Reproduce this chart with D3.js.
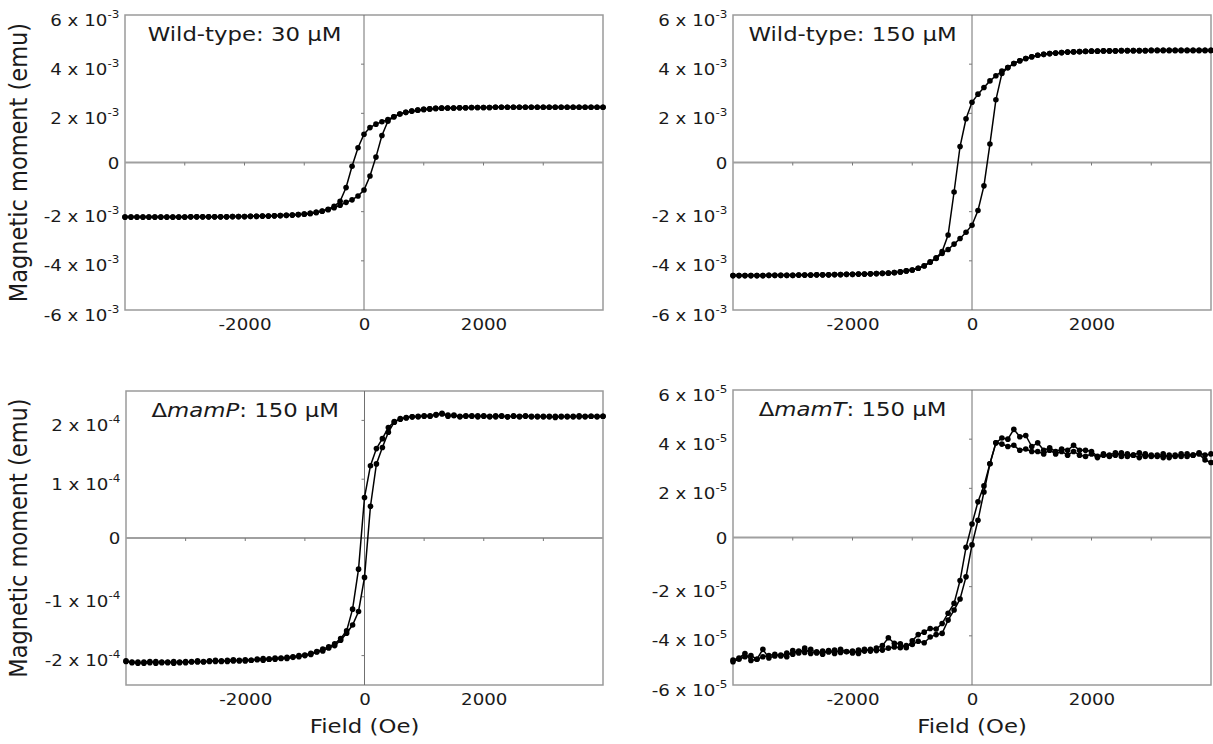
<!DOCTYPE html>
<html><head><meta charset="utf-8">
<script src="https://cdn.jsdelivr.net/npm/d3@7"></script>
<style>
body{margin:0;background:#fff}
svg{display:block}
text{font-family:"DejaVu Sans",sans-serif;fill:#1a1a1a}
</style>
</head><body>
<svg id="chart" width="1213" height="744"></svg>
<script>
// ---------- DATA ----------
const fieldOe = [
 -4000,-3900,-3800,-3700,-3600,-3500,-3400,-3300,-3200,-3100,
 -3000,-2900,-2800,-2700,-2600,-2500,-2400,-2300,-2200,-2100,
 -2000,-1900,-1800,-1700,-1600,-1500,-1400,-1300,-1200,-1100,
 -1000,-900,-800,-700,-600,-500,-400,-300,-200,-100,
 0,100,200,300,400,500,600,700,800,900,
 1000,1100,1200,1300,1400,1500,1600,1700,1800,1900,
 2000,2100,2200,2300,2400,2500,2600,2700,2800,2900,
 3000,3100,3200,3300,3400,3500,3600,3700,3800,3900,
 4000];

// Wild-type 30 µM (x 10^-3 emu)
const wt30Asc = [
 -2.22,-2.22,-2.22,-2.22,-2.22,-2.22,-2.22,-2.22,-2.22,-2.22,
 -2.22,-2.21,-2.21,-2.21,-2.21,-2.21,-2.21,-2.21,-2.20,-2.20,
 -2.20,-2.19,-2.19,-2.18,-2.18,-2.17,-2.16,-2.15,-2.14,-2.12,
 -2.10,-2.07,-2.03,-1.98,-1.92,-1.84,-1.74,-1.62,-1.52,-1.36,
 -1.12,-0.55,0.22,1.10,1.68,1.86,1.97,2.04,2.09,2.13,
 2.16,2.18,2.20,2.21,2.22,2.22,2.23,2.23,2.24,2.24,
 2.24,2.24,2.25,2.25,2.25,2.25,2.25,2.25,2.25,2.25,
 2.25,2.25,2.25,2.25,2.25,2.25,2.25,2.25,2.25,2.25,
 2.25];
const wt30Desc = [
 -2.22,-2.22,-2.22,-2.22,-2.22,-2.22,-2.22,-2.22,-2.22,-2.22,
 -2.22,-2.21,-2.21,-2.21,-2.21,-2.21,-2.21,-2.21,-2.20,-2.20,
 -2.20,-2.19,-2.19,-2.18,-2.18,-2.17,-2.16,-2.15,-2.14,-2.12,
 -2.10,-2.07,-2.03,-1.97,-1.90,-1.78,-1.58,-1.02,-0.15,0.60,
 1.15,1.42,1.56,1.66,1.75,1.86,1.97,2.04,2.09,2.13,
 2.16,2.18,2.20,2.21,2.22,2.22,2.23,2.23,2.24,2.24,
 2.24,2.24,2.25,2.25,2.25,2.25,2.25,2.25,2.25,2.25,
 2.25,2.25,2.25,2.25,2.25,2.25,2.25,2.25,2.25,2.25,
 2.25];

// Wild-type 150 µM (x 10^-3 emu)
const wt150Asc = [
 -4.60,-4.60,-4.60,-4.60,-4.60,-4.60,-4.59,-4.59,-4.59,-4.59,
 -4.59,-4.58,-4.58,-4.58,-4.57,-4.57,-4.57,-4.56,-4.56,-4.55,
 -4.55,-4.54,-4.54,-4.53,-4.52,-4.51,-4.50,-4.48,-4.45,-4.41,
 -4.37,-4.30,-4.21,-4.06,-3.90,-3.70,-3.54,-3.32,-3.09,-2.84,
 -2.55,-1.95,-0.95,0.75,2.55,3.62,3.86,4.03,4.14,4.23,
 4.30,4.36,4.40,4.43,4.45,4.47,4.49,4.50,4.51,4.52,
 4.53,4.53,4.54,4.54,4.54,4.55,4.55,4.55,4.55,4.55,
 4.56,4.56,4.56,4.56,4.56,4.56,4.56,4.56,4.56,4.56,
 4.56];
const wt150Desc = [
 -4.60,-4.60,-4.60,-4.60,-4.60,-4.60,-4.59,-4.59,-4.59,-4.59,
 -4.59,-4.58,-4.58,-4.58,-4.57,-4.57,-4.57,-4.56,-4.56,-4.55,
 -4.55,-4.54,-4.54,-4.53,-4.52,-4.51,-4.50,-4.48,-4.45,-4.41,
 -4.37,-4.30,-4.20,-4.04,-3.88,-3.62,-2.95,-1.20,0.65,1.78,
 2.45,2.78,3.05,3.32,3.53,3.72,3.86,4.03,4.14,4.23,
 4.30,4.36,4.40,4.43,4.45,4.47,4.49,4.50,4.51,4.52,
 4.53,4.53,4.54,4.54,4.54,4.55,4.55,4.55,4.55,4.55,
 4.56,4.56,4.56,4.56,4.56,4.56,4.56,4.56,4.56,4.56,
 4.56];

// ΔmamP 150 µM (x 10^-4 emu)
const mamPAsc = [
 -2.09,-2.12,-2.11,-2.13,-2.12,-2.10,-2.12,-2.11,-2.13,-2.11,
 -2.12,-2.10,-2.11,-2.10,-2.09,-2.10,-2.09,-2.10,-2.09,-2.08,
 -2.09,-2.08,-2.07,-2.08,-2.06,-2.06,-2.05,-2.05,-2.03,-2.02,
 -2.00,-1.98,-1.94,-1.92,-1.87,-1.83,-1.74,-1.62,-1.48,-1.25,
 -0.67,0.54,1.26,1.54,1.80,1.97,2.03,2.05,2.06,2.07,
 2.07,2.08,2.10,2.12,2.09,2.08,2.07,2.08,2.07,2.08,
 2.07,2.06,2.08,2.07,2.06,2.08,2.07,2.08,2.06,2.07,
 2.07,2.06,2.07,2.06,2.07,2.06,2.08,2.07,2.07,2.07,
 2.07];
const mamPDesc = [
 -2.10,-2.11,-2.13,-2.11,-2.10,-2.13,-2.11,-2.12,-2.10,-2.12,
 -2.10,-2.11,-2.09,-2.11,-2.10,-2.08,-2.10,-2.08,-2.07,-2.09,
 -2.07,-2.08,-2.06,-2.05,-2.06,-2.04,-2.04,-2.03,-2.02,-2.00,
 -1.99,-1.96,-1.93,-1.89,-1.85,-1.80,-1.71,-1.58,-1.21,-0.53,
 0.69,1.23,1.52,1.69,1.88,1.98,2.02,2.04,2.06,2.06,
 2.08,2.07,2.09,2.11,2.07,2.09,2.06,2.07,2.08,2.06,
 2.08,2.07,2.06,2.08,2.06,2.07,2.06,2.07,2.07,2.06,
 2.06,2.07,2.05,2.07,2.06,2.07,2.06,2.06,2.07,2.06,
 2.07];

// ΔmamT 150 µM (x 10^-5 emu)
const mamTAsc = [
 -4.98,-4.90,-4.72,-5.00,-4.95,-4.85,-4.80,-4.75,-4.82,-4.70,
 -4.75,-4.62,-4.68,-4.55,-4.70,-4.62,-4.66,-4.58,-4.68,-4.64,
 -4.70,-4.58,-4.62,-4.55,-4.60,-4.58,-4.50,-4.45,-4.48,-4.40,
 -4.35,-4.22,-4.28,-4.05,-3.95,-3.90,-3.36,-2.95,-2.50,-1.60,
 -0.30,0.70,1.85,3.00,3.85,4.05,4.00,4.40,4.10,4.15,
 3.70,3.85,3.55,3.65,3.50,3.60,3.55,3.75,3.55,3.55,
 3.50,3.30,3.40,3.35,3.45,3.30,3.40,3.35,3.45,3.30,
 3.35,3.30,3.40,3.25,3.35,3.30,3.40,3.35,3.40,3.15,
 3.05];
const mamTDesc = [
 -5.05,-4.95,-4.85,-4.80,-4.95,-4.55,-4.90,-4.82,-4.78,-4.85,
 -4.60,-4.70,-4.50,-4.72,-4.65,-4.75,-4.60,-4.72,-4.55,-4.65,
 -4.62,-4.72,-4.55,-4.62,-4.50,-4.40,-4.08,-4.30,-4.32,-4.48,
 -4.20,-3.95,-3.85,-3.70,-3.72,-3.50,-3.08,-2.68,-1.75,-0.40,
 0.55,1.45,2.10,3.00,3.85,3.80,3.70,3.75,3.55,3.60,
 3.50,3.50,3.40,3.55,3.40,3.50,3.35,3.50,3.35,3.30,
 3.40,3.25,3.35,3.30,3.35,3.45,3.30,3.35,3.25,3.40,
 3.30,3.35,3.25,3.35,3.30,3.40,3.30,3.35,3.45,3.35,
 3.40];

const xTickLabels = [-2000, 0, 2000];
const xMinorTicks = [-3000, -2000, -1000, 1000, 2000, 3000];
const yTicksMilli = [-6, -4, -2, 0, 2, 4, 6];
const yTicksMamP = [-2, -1, 0, 1, 2];
const yTicksMamT = [-6, -4, -2, 0, 2, 4, 6];

// ---------- LAYOUT ----------
const STRETCH = 1.14;   // reference text is slightly wider than tall
const panels = [
  {title:[{t:"Wild-type: 30 µM"}], asc: wt30Asc, desc: wt30Desc, exp:"-3",
   ticks: yTicksMilli, yMax: 6, box:{x0:125, x1:603, y0:15, y1:310}, yTitle:true, xTitle:false},
  {title:[{t:"Wild-type: 150 µM"}], asc: wt150Asc, desc: wt150Desc, exp:"-3",
   ticks: yTicksMilli, yMax: 6, box:{x0:733, x1:1211, y0:15, y1:310}, yTitle:false, xTitle:false},
  {title:[{t:"Δ"},{t:"mamP",i:true},{t:": 150 µM"}], asc: mamPAsc, desc: mamPDesc, exp:"-4",
   ticks: yTicksMamP, yMax: 2.5, box:{x0:126, x1:603, y0:391, y1:685}, yTitle:true, xTitle:true},
  {title:[{t:"Δ"},{t:"mamT",i:true},{t:": 150 µM"}], asc: mamTAsc, desc: mamTDesc, exp:"-5",
   ticks: yTicksMamT, yMax: 6, box:{x0:733, x1:1211, y0:390, y1:685}, yTitle:false, xTitle:true}
];

const svg = d3.select("#chart");

panels.forEach(p => {
  const b = p.box;
  const x = d3.scaleLinear().domain([-4000, 4000]).range([b.x0, b.x1]);
  const y = d3.scaleLinear().domain([-p.yMax, p.yMax]).range([b.y1, b.y0]);
  const g = svg.append("g");

  // frame
  g.append("rect").attr("x", b.x0).attr("y", b.y0)
    .attr("width", b.x1 - b.x0).attr("height", b.y1 - b.y0)
    .attr("fill", "none").attr("stroke", "#9a9a9a").attr("stroke-width", 1.5);

  // zero lines
  g.append("line").attr("x1", b.x0).attr("x2", b.x1).attr("y1", y(0)).attr("y2", y(0))
    .attr("stroke", "#a0a0a0").attr("stroke-width", 1.8);
  g.append("line").attr("x1", x(0)).attr("x2", x(0)).attr("y1", b.y0).attr("y2", b.y1)
    .attr("stroke", "#707070").attr("stroke-width", 1);

  // small ticks on zero lines
  g.selectAll(".xm").data(xMinorTicks).join("line")
    .attr("x1", d => x(d)).attr("x2", d => x(d))
    .attr("y1", y(0)).attr("y2", y(0) + 3)
    .attr("stroke", "#777").attr("stroke-width", 1);
  g.selectAll(".ym").data(p.ticks.filter(t => t !== 0 && Math.abs(t) < p.yMax)).join("line")
    .attr("x1", x(0) - 3).attr("x2", x(0))
    .attr("y1", d => y(d)).attr("y2", d => y(d))
    .attr("stroke", "#777").attr("stroke-width", 1);

  // y axis labels
  const ya = g.append("g").attr("transform", `translate(${b.x0},0)`)
    .call(d3.axisLeft(y).tickValues(p.ticks).tickSize(0).tickPadding(5));
  ya.select(".domain").remove();
  ya.selectAll("text").each(function(d) {
    const t = d3.select(this);
    t.text("").attr("font-family", "DejaVu Sans, sans-serif").attr("font-size", 16)
      .attr("fill", "#1a1a1a").attr("transform", `scale(${STRETCH},1)`);
    if (d === 0) {
      t.attr("dy", "0.35em").text("0");
    } else {
      t.attr("dy", 10);
      t.append("tspan").text(`${d} x 10`);
      t.append("tspan").attr("font-size", 10.5).attr("dy", -8).text(p.exp);
    }
  });

  // x axis labels
  const xa = g.append("g").attr("transform", `translate(0,${b.y1})`)
    .call(d3.axisBottom(x).tickValues(xTickLabels).tickSize(0).tickPadding(9).tickFormat(d3.format("d")));
  xa.select(".domain").remove();
  xa.selectAll("text").attr("font-family", "DejaVu Sans, sans-serif").attr("font-size", 16).attr("fill", "#1a1a1a")
    .attr("transform", `scale(${STRETCH},1)`)
    .text(d => String(d).replace("−", "-"));

  // data
  const line = d3.line().x((d, i) => x(fieldOe[i])).y(d => y(d));
  [p.desc, p.asc].forEach(series => {
    g.append("path").datum(series).attr("d", line)
      .attr("fill", "none").attr("stroke", "#000").attr("stroke-width", 1.5);
  });
  [p.desc, p.asc].forEach(series => {
    g.append("g").selectAll("circle").data(series).join("circle")
      .attr("cx", (d, i) => x(fieldOe[i])).attr("cy", d => y(d)).attr("r", 2.8)
      .attr("fill", "#000");
  });

  // title
  const tt = g.append("g")
    .attr("transform", `translate(${b.x0 + (b.x1 - b.x0) / 4},${b.y0 + 26}) scale(${STRETCH},1)`)
    .append("text").attr("text-anchor", "middle").attr("font-size", 20);
  p.title.forEach(s => {
    const ts = tt.append("tspan").text(s.t);
    if (s.i) ts.attr("font-style", "italic");
  });

  if (p.yTitle) {
    const cy = (b.y0 + b.y1) / 2;
    svg.append("text").attr("transform", `translate(27,${cy}) rotate(-90) scale(1,${STRETCH})`)
      .attr("text-anchor", "middle").attr("font-size", 22.5).text("Magnetic moment (emu)");
  }
  if (p.xTitle) {
    svg.append("g").attr("transform", `translate(${(b.x0 + b.x1) / 2},733) scale(${STRETCH},1)`)
      .append("text").attr("text-anchor", "middle").attr("font-size", 20).text("Field (Oe)");
  }
});
</script>
</body></html>
